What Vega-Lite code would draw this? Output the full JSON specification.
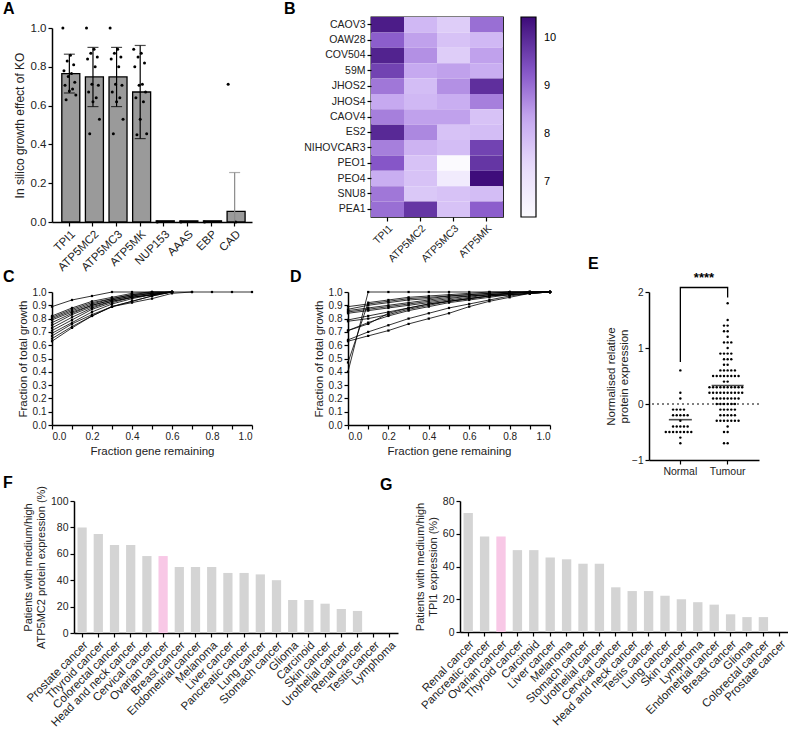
{
"$schema": "https://vega.github.io/schema/vega-lite/v6.json",
"padding": {"left": 3, "top": 0, "right": 0, "bottom": 0},
"config": {
  "font": "Liberation Sans",
  "view": {"stroke": null},
  "axis": {"grid": false, "domainColor": "#000", "domainWidth": 1.5, "tickColor": "#000", "tickWidth": 1.2, "tickSize": 4, "labelColor": "#222", "labelFontSize": 10.5, "titleFontSize": 11.5, "titleFontWeight": "normal", "titleColor": "#222", "labelPadding": 2},
  "title": {"fontSize": 16, "fontWeight": "bold", "anchor": "start", "frame": "group", "color": "#000", "offset": 0}
},
"resolve": {"scale": {"xOffset": "independent", "color": "independent"}, "legend": {"color": "independent"}},
"datasets": {
  "Abar": [{"gene":"TPI1","m":0.765},{"gene":"ATP5MC2","m":0.748},{"gene":"ATP5MC3","m":0.748},{"gene":"ATP5MK","m":0.67},{"gene":"NUP153","m":0.006},{"gene":"AAAS","m":0.006},{"gene":"EBP","m":0.006},{"gene":"CAD","m":0.055}],
  "Aerr": [{"gene":"TPI1","lo":0.665,"hi":0.865},{"gene":"ATP5MC2","lo":0.595,"hi":0.9},{"gene":"ATP5MC3","lo":0.595,"hi":0.9},{"gene":"ATP5MK","lo":0.43,"hi":0.91},{"gene":"CAD","lo":0,"hi":0.255}],
  "Apts": [
    {"gene":"TPI1","v":1.0},{"gene":"TPI1","v":0.86},{"gene":"TPI1","v":0.83},{"gene":"TPI1","v":0.81},{"gene":"TPI1","v":0.78},{"gene":"TPI1","v":0.765},{"gene":"TPI1","v":0.75},{"gene":"TPI1","v":0.72},{"gene":"TPI1","v":0.705},{"gene":"TPI1","v":0.685},{"gene":"TPI1","v":0.675},{"gene":"TPI1","v":0.655},{"gene":"TPI1","v":0.63},
    {"gene":"ATP5MC2","v":1.0},{"gene":"ATP5MC2","v":0.89},{"gene":"ATP5MC2","v":0.87},{"gene":"ATP5MC2","v":0.85},{"gene":"ATP5MC2","v":0.84},{"gene":"ATP5MC2","v":0.8},{"gene":"ATP5MC2","v":0.71},{"gene":"ATP5MC2","v":0.705},{"gene":"ATP5MC2","v":0.67},{"gene":"ATP5MC2","v":0.64},{"gene":"ATP5MC2","v":0.62},{"gene":"ATP5MC2","v":0.53},{"gene":"ATP5MC2","v":0.455},
    {"gene":"ATP5MC3","v":1.0},{"gene":"ATP5MC3","v":0.89},{"gene":"ATP5MC3","v":0.87},{"gene":"ATP5MC3","v":0.85},{"gene":"ATP5MC3","v":0.84},{"gene":"ATP5MC3","v":0.8},{"gene":"ATP5MC3","v":0.71},{"gene":"ATP5MC3","v":0.705},{"gene":"ATP5MC3","v":0.67},{"gene":"ATP5MC3","v":0.64},{"gene":"ATP5MC3","v":0.62},{"gene":"ATP5MC3","v":0.53},{"gene":"ATP5MC3","v":0.455},
    {"gene":"ATP5MK","v":0.89},{"gene":"ATP5MK","v":0.87},{"gene":"ATP5MK","v":0.85},{"gene":"ATP5MK","v":0.82},{"gene":"ATP5MK","v":0.8},{"gene":"ATP5MK","v":0.71},{"gene":"ATP5MK","v":0.705},{"gene":"ATP5MK","v":0.67},{"gene":"ATP5MK","v":0.64},{"gene":"ATP5MK","v":0.62},{"gene":"ATP5MK","v":0.53},{"gene":"ATP5MK","v":0.455},{"gene":"ATP5MK","v":0.45},
    {"gene":"NUP153","v":0},{"gene":"AAAS","v":0},{"gene":"EBP","v":0},{"gene":"CAD","v":0.71},{"gene":"CAD","v":0}
  ],
  "heat": [
    {"cl":"CAOV3","gene":"TPI1","val":10.2},{"cl":"CAOV3","gene":"ATP5MC2","val":8.0},{"cl":"CAOV3","gene":"ATP5MC3","val":7.6},{"cl":"CAOV3","gene":"ATP5MK","val":9.0},
    {"cl":"OAW28","gene":"TPI1","val":9.2},{"cl":"OAW28","gene":"ATP5MC2","val":8.4},{"cl":"OAW28","gene":"ATP5MC3","val":7.8},{"cl":"OAW28","gene":"ATP5MK","val":8.0},
    {"cl":"COV504","gene":"TPI1","val":10.1},{"cl":"COV504","gene":"ATP5MC2","val":8.6},{"cl":"COV504","gene":"ATP5MC3","val":7.6},{"cl":"COV504","gene":"ATP5MK","val":8.4},
    {"cl":"59M","gene":"TPI1","val":9.6},{"cl":"59M","gene":"ATP5MC2","val":8.3},{"cl":"59M","gene":"ATP5MC3","val":8.4},{"cl":"59M","gene":"ATP5MK","val":8.2},
    {"cl":"JHOS2","gene":"TPI1","val":8.9},{"cl":"JHOS2","gene":"ATP5MC2","val":7.9},{"cl":"JHOS2","gene":"ATP5MC3","val":8.6},{"cl":"JHOS2","gene":"ATP5MK","val":9.9},
    {"cl":"JHOS4","gene":"TPI1","val":8.3},{"cl":"JHOS4","gene":"ATP5MC2","val":8.0},{"cl":"JHOS4","gene":"ATP5MC3","val":8.2},{"cl":"JHOS4","gene":"ATP5MK","val":8.8},
    {"cl":"CAOV4","gene":"TPI1","val":8.8},{"cl":"CAOV4","gene":"ATP5MC2","val":8.4},{"cl":"CAOV4","gene":"ATP5MC3","val":8.4},{"cl":"CAOV4","gene":"ATP5MK","val":7.8},
    {"cl":"ES2","gene":"TPI1","val":10.0},{"cl":"ES2","gene":"ATP5MC2","val":8.7},{"cl":"ES2","gene":"ATP5MC3","val":7.8},{"cl":"ES2","gene":"ATP5MK","val":7.9},
    {"cl":"NIHOVCAR3","gene":"TPI1","val":8.8},{"cl":"NIHOVCAR3","gene":"ATP5MC2","val":8.1},{"cl":"NIHOVCAR3","gene":"ATP5MC3","val":7.9},{"cl":"NIHOVCAR3","gene":"ATP5MK","val":9.6},
    {"cl":"PEO1","gene":"TPI1","val":9.3},{"cl":"PEO1","gene":"ATP5MC2","val":7.8},{"cl":"PEO1","gene":"ATP5MC3","val":6.3},{"cl":"PEO1","gene":"ATP5MK","val":9.8},
    {"cl":"PEO4","gene":"TPI1","val":8.2},{"cl":"PEO4","gene":"ATP5MC2","val":7.8},{"cl":"PEO4","gene":"ATP5MC3","val":6.8},{"cl":"PEO4","gene":"ATP5MK","val":10.4},
    {"cl":"SNU8","gene":"TPI1","val":8.9},{"cl":"SNU8","gene":"ATP5MC2","val":7.7},{"cl":"SNU8","gene":"ATP5MC3","val":7.8},{"cl":"SNU8","gene":"ATP5MK","val":7.9},
    {"cl":"PEA1","gene":"TPI1","val":9.0},{"cl":"PEA1","gene":"ATP5MC2","val":9.8},{"cl":"PEA1","gene":"ATP5MC3","val":7.8},{"cl":"PEA1","gene":"ATP5MK","val":9.2}
  ],
  "C": [
    {"l":1,"x":0,"y":0.89},{"l":1,"x":0.1,"y":0.94},{"l":1,"x":0.2,"y":0.97},{"l":1,"x":0.3,"y":1},{"l":1,"x":0.4,"y":1},{"l":1,"x":0.5,"y":1},{"l":1,"x":0.6,"y":1},{"l":1,"x":0.7,"y":1},{"l":1,"x":0.8,"y":1},{"l":1,"x":0.9,"y":1},{"l":1,"x":1,"y":1},
    {"l":2,"x":0,"y":0.82},{"l":2,"x":0.1,"y":0.88},{"l":2,"x":0.2,"y":0.93},{"l":2,"x":0.3,"y":0.96},{"l":2,"x":0.4,"y":0.99},{"l":2,"x":0.5,"y":1},{"l":2,"x":0.6,"y":1},
    {"l":3,"x":0,"y":0.81},{"l":3,"x":0.1,"y":0.87},{"l":3,"x":0.2,"y":0.92},{"l":3,"x":0.3,"y":0.95},{"l":3,"x":0.4,"y":0.98},{"l":3,"x":0.5,"y":1},{"l":3,"x":0.6,"y":1},
    {"l":4,"x":0,"y":0.8},{"l":4,"x":0.1,"y":0.86},{"l":4,"x":0.2,"y":0.91},{"l":4,"x":0.3,"y":0.95},{"l":4,"x":0.4,"y":0.98},{"l":4,"x":0.5,"y":0.99},{"l":4,"x":0.6,"y":1},
    {"l":5,"x":0,"y":0.79},{"l":5,"x":0.1,"y":0.85},{"l":5,"x":0.2,"y":0.9},{"l":5,"x":0.3,"y":0.94},{"l":5,"x":0.4,"y":0.97},{"l":5,"x":0.5,"y":0.99},{"l":5,"x":0.6,"y":1},
    {"l":6,"x":0,"y":0.77},{"l":6,"x":0.1,"y":0.84},{"l":6,"x":0.2,"y":0.9},{"l":6,"x":0.3,"y":0.94},{"l":6,"x":0.4,"y":0.97},{"l":6,"x":0.5,"y":0.99},{"l":6,"x":0.6,"y":1},
    {"l":7,"x":0,"y":0.75},{"l":7,"x":0.1,"y":0.83},{"l":7,"x":0.2,"y":0.89},{"l":7,"x":0.3,"y":0.93},{"l":7,"x":0.4,"y":0.96},{"l":7,"x":0.5,"y":0.98},{"l":7,"x":0.6,"y":1},
    {"l":8,"x":0,"y":0.73},{"l":8,"x":0.1,"y":0.81},{"l":8,"x":0.2,"y":0.88},{"l":8,"x":0.3,"y":0.93},{"l":8,"x":0.4,"y":0.96},{"l":8,"x":0.5,"y":0.98},{"l":8,"x":0.6,"y":1},
    {"l":9,"x":0,"y":0.71},{"l":9,"x":0.1,"y":0.79},{"l":9,"x":0.2,"y":0.87},{"l":9,"x":0.3,"y":0.92},{"l":9,"x":0.4,"y":0.96},{"l":9,"x":0.5,"y":0.98},{"l":9,"x":0.6,"y":1},
    {"l":10,"x":0,"y":0.69},{"l":10,"x":0.1,"y":0.77},{"l":10,"x":0.2,"y":0.85},{"l":10,"x":0.3,"y":0.91},{"l":10,"x":0.4,"y":0.95},{"l":10,"x":0.5,"y":0.98},{"l":10,"x":0.6,"y":1},
    {"l":11,"x":0,"y":0.67},{"l":11,"x":0.1,"y":0.76},{"l":11,"x":0.2,"y":0.83},{"l":11,"x":0.3,"y":0.89},{"l":11,"x":0.4,"y":0.93},{"l":11,"x":0.5,"y":0.97},{"l":11,"x":0.6,"y":1},
    {"l":12,"x":0,"y":0.65},{"l":12,"x":0.1,"y":0.74},{"l":12,"x":0.2,"y":0.82},{"l":12,"x":0.3,"y":0.89},{"l":12,"x":0.4,"y":0.93},{"l":12,"x":0.5,"y":0.97},{"l":12,"x":0.6,"y":1},
    {"l":13,"x":0,"y":0.63},{"l":13,"x":0.1,"y":0.73},{"l":13,"x":0.2,"y":0.82},{"l":13,"x":0.3,"y":0.89},{"l":13,"x":0.4,"y":0.92},{"l":13,"x":0.5,"y":0.95},{"l":13,"x":0.6,"y":0.99},{"l":13,"x":0.7,"y":1}
  ],
  "D": [
    {"l":1,"x":0,"y":0.4},{"l":1,"x":0.1,"y":1},{"l":1,"x":0.2,"y":1},{"l":1,"x":0.3,"y":1},{"l":1,"x":0.4,"y":1},{"l":1,"x":0.5,"y":1},{"l":1,"x":0.6,"y":1},{"l":1,"x":0.7,"y":1},{"l":1,"x":0.8,"y":1},{"l":1,"x":0.9,"y":1},{"l":1,"x":1,"y":1},
    {"l":2,"x":0,"y":0.47},{"l":2,"x":0.1,"y":0.92},{"l":2,"x":0.2,"y":0.94},{"l":2,"x":0.3,"y":0.96},{"l":2,"x":0.4,"y":0.97},{"l":2,"x":0.5,"y":0.98},{"l":2,"x":0.6,"y":0.99},{"l":2,"x":0.7,"y":1},{"l":2,"x":0.8,"y":1},{"l":2,"x":0.9,"y":1},{"l":2,"x":1,"y":1},
    {"l":3,"x":0,"y":0.89},{"l":3,"x":0.1,"y":0.91},{"l":3,"x":0.2,"y":0.93},{"l":3,"x":0.3,"y":0.95},{"l":3,"x":0.4,"y":0.96},{"l":3,"x":0.5,"y":0.97},{"l":3,"x":0.6,"y":0.98},{"l":3,"x":0.7,"y":0.99},{"l":3,"x":0.8,"y":1},{"l":3,"x":0.9,"y":1},{"l":3,"x":1,"y":1},
    {"l":4,"x":0,"y":0.87},{"l":4,"x":0.1,"y":0.9},{"l":4,"x":0.2,"y":0.92},{"l":4,"x":0.3,"y":0.94},{"l":4,"x":0.4,"y":0.95},{"l":4,"x":0.5,"y":0.97},{"l":4,"x":0.6,"y":0.98},{"l":4,"x":0.7,"y":0.99},{"l":4,"x":0.8,"y":1},{"l":4,"x":0.9,"y":1},{"l":4,"x":1,"y":1},
    {"l":5,"x":0,"y":0.86},{"l":5,"x":0.1,"y":0.88},{"l":5,"x":0.2,"y":0.9},{"l":5,"x":0.3,"y":0.92},{"l":5,"x":0.4,"y":0.94},{"l":5,"x":0.5,"y":0.96},{"l":5,"x":0.6,"y":0.97},{"l":5,"x":0.7,"y":0.98},{"l":5,"x":0.8,"y":0.99},{"l":5,"x":0.9,"y":1},{"l":5,"x":1,"y":1},
    {"l":6,"x":0,"y":0.85},{"l":6,"x":0.1,"y":0.87},{"l":6,"x":0.2,"y":0.89},{"l":6,"x":0.3,"y":0.91},{"l":6,"x":0.4,"y":0.93},{"l":6,"x":0.5,"y":0.95},{"l":6,"x":0.6,"y":0.97},{"l":6,"x":0.7,"y":0.98},{"l":6,"x":0.8,"y":0.99},{"l":6,"x":0.9,"y":1},{"l":6,"x":1,"y":1},
    {"l":7,"x":0,"y":0.84},{"l":7,"x":0.1,"y":0.86},{"l":7,"x":0.2,"y":0.88},{"l":7,"x":0.3,"y":0.9},{"l":7,"x":0.4,"y":0.92},{"l":7,"x":0.5,"y":0.94},{"l":7,"x":0.6,"y":0.96},{"l":7,"x":0.7,"y":0.98},{"l":7,"x":0.8,"y":0.99},{"l":7,"x":0.9,"y":1},{"l":7,"x":1,"y":1},
    {"l":8,"x":0,"y":0.79},{"l":8,"x":0.1,"y":0.82},{"l":8,"x":0.2,"y":0.85},{"l":8,"x":0.3,"y":0.88},{"l":8,"x":0.4,"y":0.91},{"l":8,"x":0.5,"y":0.93},{"l":8,"x":0.6,"y":0.95},{"l":8,"x":0.7,"y":0.97},{"l":8,"x":0.8,"y":0.99},{"l":8,"x":0.9,"y":1},{"l":8,"x":1,"y":1},
    {"l":9,"x":0,"y":0.78},{"l":9,"x":0.1,"y":0.8},{"l":9,"x":0.2,"y":0.83},{"l":9,"x":0.3,"y":0.87},{"l":9,"x":0.4,"y":0.9},{"l":9,"x":0.5,"y":0.93},{"l":9,"x":0.6,"y":0.95},{"l":9,"x":0.7,"y":0.97},{"l":9,"x":0.8,"y":0.98},{"l":9,"x":0.9,"y":0.99},{"l":9,"x":1,"y":1},
    {"l":10,"x":0,"y":0.71},{"l":10,"x":0.1,"y":0.77},{"l":10,"x":0.2,"y":0.82},{"l":10,"x":0.3,"y":0.86},{"l":10,"x":0.4,"y":0.89},{"l":10,"x":0.5,"y":0.92},{"l":10,"x":0.6,"y":0.94},{"l":10,"x":0.7,"y":0.96},{"l":10,"x":0.8,"y":0.98},{"l":10,"x":0.9,"y":0.99},{"l":10,"x":1,"y":1},
    {"l":11,"x":0,"y":0.71},{"l":11,"x":0.1,"y":0.76},{"l":11,"x":0.2,"y":0.84},{"l":11,"x":0.3,"y":0.88},{"l":11,"x":0.4,"y":0.91},{"l":11,"x":0.5,"y":0.93},{"l":11,"x":0.6,"y":0.95},{"l":11,"x":0.7,"y":0.97},{"l":11,"x":0.8,"y":0.98},{"l":11,"x":0.9,"y":0.99},{"l":11,"x":1,"y":1},
    {"l":12,"x":0,"y":0.64},{"l":12,"x":0.1,"y":0.7},{"l":12,"x":0.2,"y":0.75},{"l":12,"x":0.3,"y":0.8},{"l":12,"x":0.4,"y":0.84},{"l":12,"x":0.5,"y":0.88},{"l":12,"x":0.6,"y":0.91},{"l":12,"x":0.7,"y":0.94},{"l":12,"x":0.8,"y":0.97},{"l":12,"x":0.9,"y":0.99},{"l":12,"x":1,"y":1},
    {"l":13,"x":0,"y":0.63},{"l":13,"x":0.1,"y":0.67},{"l":13,"x":0.2,"y":0.71},{"l":13,"x":0.3,"y":0.76},{"l":13,"x":0.4,"y":0.8},{"l":13,"x":0.5,"y":0.84},{"l":13,"x":0.6,"y":0.89},{"l":13,"x":0.7,"y":0.93},{"l":13,"x":0.8,"y":0.96},{"l":13,"x":0.9,"y":0.99},{"l":13,"x":1,"y":1}
  ],
  "Edots": [
    {"g":"Normal","v":0.6},{"g":"Normal","v":0.2},{"g":"Normal","v":0.1},
    {"g":"Normal","v":-0.1},{"g":"Normal","v":-0.1},{"g":"Normal","v":-0.1},{"g":"Normal","v":-0.1},
    {"g":"Normal","v":-0.2},{"g":"Normal","v":-0.2},{"g":"Normal","v":-0.2},{"g":"Normal","v":-0.2},{"g":"Normal","v":-0.2},
    {"g":"Normal","v":-0.3},
    {"g":"Normal","v":-0.4},{"g":"Normal","v":-0.4},{"g":"Normal","v":-0.4},{"g":"Normal","v":-0.4},{"g":"Normal","v":-0.4},
    {"g":"Normal","v":-0.5},{"g":"Normal","v":-0.5},{"g":"Normal","v":-0.5},{"g":"Normal","v":-0.5},{"g":"Normal","v":-0.5},{"g":"Normal","v":-0.5},{"g":"Normal","v":-0.5},{"g":"Normal","v":-0.5},
    {"g":"Normal","v":-0.6},{"g":"Normal","v":-0.7},
    {"g":"Tumour","v":1.8},{"g":"Tumour","v":1.5},{"g":"Tumour","v":1.4},{"g":"Tumour","v":1.4},{"g":"Tumour","v":1.3},{"g":"Tumour","v":1.3},{"g":"Tumour","v":1.2},
    {"g":"Tumour","v":1.1},{"g":"Tumour","v":1.1},{"g":"Tumour","v":1.1},{"g":"Tumour","v":1.0},
    {"g":"Tumour","v":0.9},{"g":"Tumour","v":0.9},{"g":"Tumour","v":0.9},{"g":"Tumour","v":0.9},
    {"g":"Tumour","v":0.8},{"g":"Tumour","v":0.8},{"g":"Tumour","v":0.8},
    {"g":"Tumour","v":0.7},{"g":"Tumour","v":0.7},
    {"g":"Tumour","v":0.6},{"g":"Tumour","v":0.6},{"g":"Tumour","v":0.6},{"g":"Tumour","v":0.6},{"g":"Tumour","v":0.6},
    {"g":"Tumour","v":0.5},{"g":"Tumour","v":0.5},{"g":"Tumour","v":0.5},{"g":"Tumour","v":0.5},{"g":"Tumour","v":0.5},{"g":"Tumour","v":0.5},{"g":"Tumour","v":0.5},{"g":"Tumour","v":0.5},
    {"g":"Tumour","v":0.4},{"g":"Tumour","v":0.4},
    {"g":"Tumour","v":0.3},{"g":"Tumour","v":0.3},{"g":"Tumour","v":0.3},{"g":"Tumour","v":0.3},{"g":"Tumour","v":0.3},{"g":"Tumour","v":0.3},{"g":"Tumour","v":0.3},{"g":"Tumour","v":0.3},{"g":"Tumour","v":0.3},{"g":"Tumour","v":0.3},
    {"g":"Tumour","v":0.2},{"g":"Tumour","v":0.2},{"g":"Tumour","v":0.2},{"g":"Tumour","v":0.2},{"g":"Tumour","v":0.2},{"g":"Tumour","v":0.2},{"g":"Tumour","v":0.2},{"g":"Tumour","v":0.2},{"g":"Tumour","v":0.2},{"g":"Tumour","v":0.2},
    {"g":"Tumour","v":0.1},{"g":"Tumour","v":0.1},{"g":"Tumour","v":0.1},{"g":"Tumour","v":0.1},{"g":"Tumour","v":0.1},{"g":"Tumour","v":0.1},{"g":"Tumour","v":0.1},{"g":"Tumour","v":0.1},
    {"g":"Tumour","v":0},{"g":"Tumour","v":0},{"g":"Tumour","v":0},{"g":"Tumour","v":0},{"g":"Tumour","v":0},{"g":"Tumour","v":0},
    {"g":"Tumour","v":-0.1},{"g":"Tumour","v":-0.1},{"g":"Tumour","v":-0.1},{"g":"Tumour","v":-0.1},{"g":"Tumour","v":-0.1},
    {"g":"Tumour","v":-0.2},{"g":"Tumour","v":-0.2},{"g":"Tumour","v":-0.2},{"g":"Tumour","v":-0.2},{"g":"Tumour","v":-0.2},
    {"g":"Tumour","v":-0.3},{"g":"Tumour","v":-0.3},{"g":"Tumour","v":-0.3},{"g":"Tumour","v":-0.3},{"g":"Tumour","v":-0.3},{"g":"Tumour","v":-0.3},{"g":"Tumour","v":-0.3},
    {"g":"Tumour","v":-0.4},{"g":"Tumour","v":-0.5},{"g":"Tumour","v":-0.5},{"g":"Tumour","v":-0.7},{"g":"Tumour","v":-0.7}
  ],
  "Emed": [{"g":"Normal","m":-0.28},{"g":"Tumour","m":0.33}],
  "Ebr": [{"g":"Normal","v":0.75,"o":1},{"g":"Normal","v":2.08,"o":2},{"g":"Tumour","v":2.08,"o":3},{"g":"Tumour","v":1.9,"o":4}],
  "F": [
    {"c":"Prostate cancer","v":80},{"c":"Thyroid cancer","v":75},{"c":"Colorectal cancer","v":66.7},{"c":"Head and neck cancer","v":66.7},{"c":"Cervical cancer","v":58.3},{"c":"Ovarian cancer","v":58.3},{"c":"Breast cancer","v":50},{"c":"Endometrial cancer","v":50},{"c":"Melanoma","v":50},{"c":"Liver cancer","v":45.5},{"c":"Pancreatic cancer","v":45.5},{"c":"Lung cancer","v":44.4},{"c":"Stomach cancer","v":40},{"c":"Glioma","v":25},{"c":"Carcinoid","v":25},{"c":"Skin cancer","v":22.2},{"c":"Urothelial cancer","v":18.2},{"c":"Renal cancer","v":16.7},{"c":"Testis cancer","v":0},{"c":"Lymphoma","v":0}
  ],
  "G": [
    {"c":"Renal cancer","v":72.7},{"c":"Pancreatic cancer","v":58.3},{"c":"Ovarian cancer","v":58.3},{"c":"Thyroid cancer","v":50},{"c":"Carcinoid","v":50},{"c":"Liver cancer","v":45.5},{"c":"Melanoma","v":44.4},{"c":"Stomach cancer","v":41.7},{"c":"Urothelial cancer","v":41.7},{"c":"Cervical cancer","v":27.3},{"c":"Head and neck cancer","v":25},{"c":"Testis cancer","v":25},{"c":"Lung cancer","v":22.2},{"c":"Skin cancer","v":20},{"c":"Lymphoma","v":18.2},{"c":"Endometrial cancer","v":16.7},{"c":"Breast cancer","v":10.8},{"c":"Glioma","v":9.1},{"c":"Colorectal cancer","v":9.1},{"c":"Prostate cancer","v":0}
  ]
},
"spacing": -18,
"vconcat": [
  {"spacing": 31,
   "resolve": {"scale": {"xOffset": "independent", "color": "independent"}, "legend": {"color": "independent"}},
   "hconcat": [
    {"title": {"text": "A", "dx": -49, "offset": 0},
     "width": 200, "height": 205,
     "layer": [
       {"data": {"name": "Abar"},
        "mark": {"type": "bar", "fill": "#9a9a9a", "stroke": "#000", "strokeWidth": 1.3},
        "encoding": {
          "x": {"field": "gene", "type": "nominal", "scale": {"domain": ["TPI1","ATP5MC2","ATP5MC3","ATP5MK","NUP153","AAAS","EBP","CAD"], "paddingInner": 0.36, "paddingOuter": 0.415}, "axis": {"title": null, "labelAngle": -45, "labelFontSize": 11.5, "bandPosition": 0.5}},
          "y": {"field": "m", "type": "quantitative", "scale": {"domain": [0, 1], "range": [205, 11]}, "axis": {"title": "In silico growth effect of KO", "values": [0, 0.2, 0.4, 0.6, 0.8, 1], "format": ".1f", "labelFontSize": 11.5, "titleFontSize": 12}}
        }},
       {"data": {"name": "Aerr"},
        "mark": {"type": "rule", "strokeWidth": 1.2},
        "encoding": {
          "x": {"field": "gene", "type": "nominal"},
          "y": {"field": "lo", "type": "quantitative"}, "y2": {"field": "hi"},
          "color": {"condition": {"test": "datum.gene === 'CAD'", "value": "#8a8a8a"}, "value": "#000"}
        }},
       {"data": {"name": "Aerr"},
        "transform": [{"filter": "datum.gene !== 'CAD'"}],
        "mark": {"type": "tick", "size": 11, "thickness": 1.2, "color": "#000"},
        "encoding": {"x": {"field": "gene", "type": "nominal"}, "y": {"field": "lo", "type": "quantitative"}}},
       {"data": {"name": "Aerr"},
        "mark": {"type": "tick", "size": 11, "thickness": 1.2},
        "encoding": {"x": {"field": "gene", "type": "nominal"}, "y": {"field": "hi", "type": "quantitative"},
          "color": {"condition": {"test": "datum.gene === 'CAD'", "value": "#8a8a8a"}, "value": "#000"}}},
       {"data": {"name": "Apts"},
        "transform": [{"window": [{"op": "row_number", "as": "r"}], "groupby": ["gene"], "sort": [{"field": "v", "order": "descending"}]}],
        "mark": {"type": "circle", "size": 9, "color": "#000", "opacity": 1},
        "encoding": {"x": {"field": "gene", "type": "nominal"}, "y": {"field": "v", "type": "quantitative"},
          "xOffset": {"field": "r", "type": "nominal", "scale": {"domain": [1,5,9,13,3,7,11,2,6,10,4,8,12], "paddingOuter": 1}}}}
     ]},
    {"title": {"text": "B", "dx": -87, "offset": 0},
     "width": 132, "height": 200,
     "view": {"stroke": "#000", "strokeWidth": 1.3},
     "data": {"name": "heat"},
     "mark": "rect",
     "encoding": {
       "x": {"field": "gene", "type": "nominal", "sort": ["TPI1","ATP5MC2","ATP5MC3","ATP5MK"], "scale": {"paddingInner": 0, "paddingOuter": 0}, "axis": {"title": null, "labelAngle": -45, "domain": false, "bandPosition": 0.5, "labelFontSize": 10.5}},
       "y": {"field": "cl", "type": "nominal", "sort": ["CAOV3","OAW28","COV504","59M","JHOS2","JHOS4","CAOV4","ES2","NIHOVCAR3","PEO1","PEO4","SNU8","PEA1"], "scale": {"paddingInner": 0, "paddingOuter": 0}, "axis": {"title": null, "domain": false, "labelFontSize": 10.5}},
       "color": {"field": "val", "type": "quantitative",
         "scale": {"domain": [6.27, 7.3, 8.3, 9.3, 10.44], "range": ["#fcfbfe", "#e8dcfb", "#c6a9f0", "#8656c8", "#3c0a78"]},
         "legend": {"title": null, "orient": "right", "direction": "vertical", "gradientLength": 200, "gradientThickness": 15, "values": [7, 8, 9, 10], "offset": 18, "gradientStrokeColor": "#000", "gradientStrokeWidth": 1.2, "labelFontSize": 11, "labelOffset": 8, "padding": 0}}
     }}
  ]},
  {"spacing": -2,
   "resolve": {"scale": {"xOffset": "independent"}},
   "vconcat": [
    {"spacing": 36,
     "resolve": {"scale": {"xOffset": "independent"}},
     "hconcat": [
      {"title": {"text": "C", "dx": -49, "offset": 2},
       "width": 200, "height": 133,
       "data": {"name": "C"},
       "encoding": {
         "x": {"field": "x", "type": "quantitative", "scale": {"domain": [0, 1]}, "axis": {"title": "Fraction gene remaining", "values": [0,0.1,0.2,0.3,0.4,0.5,0.6,0.7,0.8,0.9,1], "format": ".1f", "labelFontSize": 10}},
         "y": {"field": "y", "type": "quantitative", "scale": {"domain": [0, 1]}, "axis": {"title": "Fraction of total growth", "values": [0,0.1,0.2,0.3,0.4,0.5,0.6,0.7,0.8,0.9,1], "format": ".1f", "labelFontSize": 10}},
         "detail": {"field": "l", "type": "nominal"}
       },
       "layer": [
         {"mark": {"type": "line", "color": "#000", "strokeWidth": 0.8}},
         {"mark": {"type": "square", "color": "#000", "size": 5, "opacity": 1}}
       ]},
      {"spacing": 36,
       "resolve": {"scale": {"xOffset": "independent"}},
       "hconcat": [
        {"title": {"text": "D", "dx": -58, "offset": 2},
         "width": 202, "height": 133,
         "data": {"name": "D"},
         "encoding": {
           "x": {"field": "x", "type": "quantitative", "scale": {"domain": [0, 1]}, "axis": {"title": "Fraction gene remaining", "values": [0,0.1,0.2,0.3,0.4,0.5,0.6,0.7,0.8,0.9,1], "format": ".1f", "labelFontSize": 10}},
           "y": {"field": "y", "type": "quantitative", "scale": {"domain": [0, 1]}, "axis": {"title": "Fraction of total growth", "values": [0,0.1,0.2,0.3,0.4,0.5,0.6,0.7,0.8,0.9,1], "format": ".1f", "labelFontSize": 10}},
           "detail": {"field": "l", "type": "nominal"}
         },
         "layer": [
           {"mark": {"type": "line", "color": "#000", "strokeWidth": 0.8}},
           {"mark": {"type": "square", "color": "#000", "size": 5, "opacity": 1}}
         ]},
        {"title": {"text": "E", "dx": -61, "offset": 0},
         "width": 110, "height": 168,
         "layer": [
           {"data": {"values": [{}]},
            "mark": {"type": "rule", "strokeDash": [2, 3], "color": "#000", "strokeWidth": 1}, "encoding": {"y": {"datum": 0, "type": "quantitative"}}},
           {"data": {"name": "Edots"},
            "transform": [{"window": [{"op": "row_number", "as": "r"}], "groupby": ["g", "v"]}],
            "mark": {"type": "circle", "size": 6, "color": "#000", "opacity": 1},
            "encoding": {
              "x": {"field": "g", "type": "nominal", "scale": {"domain": ["Normal", "Tumour"], "paddingInner": 0, "paddingOuter": 0.163}, "axis": {"title": null, "labelAngle": 0, "labelFontSize": 10.5, "bandPosition": 0.5}},
              "xOffset": {"field": "r", "type": "nominal", "scale": {"domain": [12,10,8,6,4,2,1,3,5,7,9,11,13]}},
              "y": {"field": "v", "type": "quantitative", "scale": {"domain": [-1, 2]}, "axis": {"title": ["Normalised relative", "protein expression"], "values": [-1, 0, 1, 2], "format": "d", "labelFontSize": 10, "titleFontSize": 11.5, "titlePadding": 2}}
            }},
           {"data": {"name": "Emed"},
            "mark": {"type": "tick", "thickness": 1.6, "color": "#000"},
            "encoding": {"x": {"field": "g", "type": "nominal"}, "y": {"field": "m", "type": "quantitative"},
              "size": {"condition": {"test": "datum.g === 'Tumour'", "value": 32}, "value": 23}}},
           {"data": {"name": "Ebr"},
            "mark": {"type": "line", "color": "#000", "strokeWidth": 1.3},
            "encoding": {"x": {"field": "g", "type": "nominal"}, "y": {"field": "v", "type": "quantitative"}, "order": {"field": "o"}}},
           {"data": {"values": [{}]},
            "mark": {"type": "text", "text": "****", "fontSize": 13, "fontWeight": "bold", "dx": 23.6, "color": "#000"},
            "encoding": {"x": {"datum": "Normal"}, "y": {"datum": 2.25}}}
         ]}
       ]}
     ]},
    {"spacing": -31,
     "hconcat": [
      {"title": {"text": "F", "dx": -49, "offset": 10},
       "width": 1, "height": 132,
       "data": {"values": []},
       "mark": "point"},
      {"spacing": -18,
       "hconcat": [
        {"width": 324, "height": 132,
         "data": {"name": "F"},
         "mark": {"type": "bar"},
         "encoding": {
           "x": {"field": "c", "type": "nominal", "sort": null, "scale": {"paddingInner": 0.43, "paddingOuter": 0.215}, "axis": {"title": null, "labelAngle": -45, "labelFontSize": 11.5, "bandPosition": 0.5}},
           "y": {"field": "v", "type": "quantitative", "scale": {"domain": [0, 100]}, "axis": {"title": ["Patients with medium/high", "ATP5MC2 protein expression (%)"], "values": [0, 20, 40, 60, 80, 100], "labelFontSize": 10.5, "titleFontSize": 11}},
           "color": {"condition": {"test": "datum.c === 'Ovarian cancer'", "value": "#f8c8e6"}, "value": "#d4d4d4"}
         }},
        {"title": {"text": "G", "dx": -80, "offset": 3},
         "width": 328, "height": 131,
         "data": {"name": "G"},
         "mark": {"type": "bar"},
         "encoding": {
           "x": {"field": "c", "type": "nominal", "sort": null, "scale": {"paddingInner": 0.43, "paddingOuter": 0.215}, "axis": {"title": null, "labelAngle": -45, "labelFontSize": 11.5, "bandPosition": 0.5}},
           "y": {"field": "v", "type": "quantitative", "scale": {"domain": [0, 80]}, "axis": {"title": ["Patients with medium/high", "TPI1 expression (%)"], "values": [0, 20, 40, 60, 80], "labelFontSize": 10.5, "titleFontSize": 11}},
           "color": {"condition": {"test": "datum.c === 'Ovarian cancer'", "value": "#f8c8e6"}, "value": "#d4d4d4"}
         }}
       ]}
     ]}
   ]}
]
}
